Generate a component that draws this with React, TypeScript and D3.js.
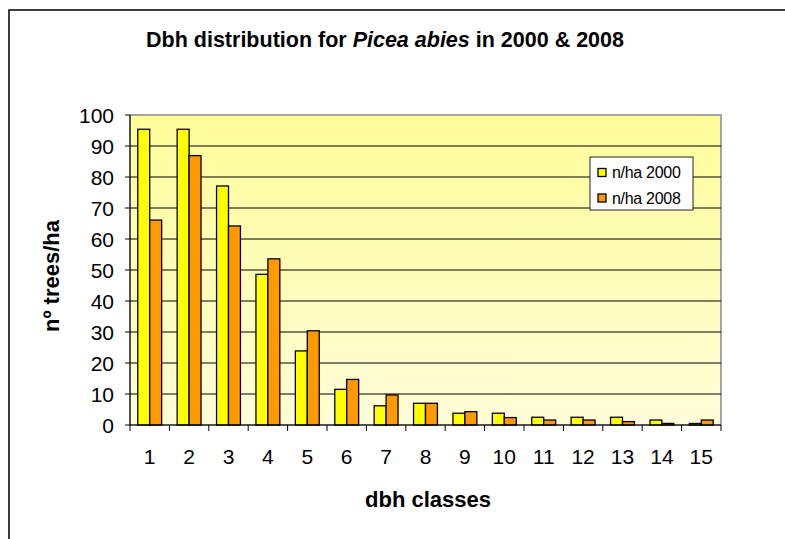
import * as d3 from 'd3';

const classes = ['1', '2', '3', '4', '5', '6', '7', '8', '9', '10', '11', '12', '13', '14', '15'];
const trees2000 = [95.4, 95.4, 77.1, 48.6, 23.9, 11.5, 6.2, 7.0, 3.8, 3.8, 2.5, 2.5, 2.5, 1.6, 0.5];
const trees2008 = [66.1, 86.9, 64.2, 53.6, 30.4, 14.7, 9.7, 7.0, 4.3, 2.4, 1.6, 1.6, 1.1, 0.5, 1.6];
const yTicks = [0, 10, 20, 30, 40, 50, 60, 70, 80, 90, 100];
const seriesNames = ['n/ha 2000', 'n/ha 2008'];
const seriesColors = ['#FFFF00', '#FF9900'];

const W = 785;
const H = 539;
const font = '"Liberation Sans", Arial, sans-serif';

export default function App(): JSX.Element {
  const plot = { left: 130, right: 721, top: 115, bottom: 425 };

  const x = d3.scaleBand<string>()
    .domain(classes)
    .range([plot.left, plot.right])
    .paddingInner(0)
    .paddingOuter(0);

  // two bars per class, gap ~ 130% of bar width
  const barW = x.bandwidth() / 3.3;
  const inner = d3.scaleBand<number>()
    .domain([0, 1])
    .range([(x.bandwidth() - 2 * barW) / 2, (x.bandwidth() + 2 * barW) / 2]);

  const y = d3.scaleLinear().domain([0, 100]).range([plot.bottom, plot.top]);

  const series = [trees2000, trees2008];

  return (
    <svg width={W} height={H} style={{ position: 'absolute', left: 0, top: 0, fontFamily: font }}>
      <defs>
        <linearGradient id="bg" x1="0" y1="0" x2="0" y2="1">
          <stop offset="0%" stopColor="#FFFC99" />
          <stop offset="100%" stopColor="#FFFDD8" />
        </linearGradient>
      </defs>
      <rect x={0} y={0} width={W} height={H} fill="#fff" />
      {/* chart frame */}
      <rect x={9} y={10} width={W + 20} height={H + 20} fill="none" stroke="#000" strokeWidth={1.5} />

      <text x={385} y={47} textAnchor="middle" fontSize={21.5} fontWeight="bold">
        Dbh distribution for <tspan fontStyle="italic">Picea abies</tspan> in 2000 &amp; 2008
      </text>

      {/* plot area */}
      <rect
        x={plot.left}
        y={plot.top}
        width={plot.right - plot.left}
        height={plot.bottom - plot.top}
        fill="url(#bg)"
        stroke="#888"
        strokeWidth={1.5}
      />
      {yTicks.filter(t => t > 0 && t < 100).map(t => (
        <line key={t} x1={plot.left} x2={plot.right} y1={y(t)} y2={y(t)} stroke="#000" strokeWidth={1} />
      ))}

      {classes.map((c, i) => (
        <g key={c} transform={`translate(${x(c)},0)`}>
          {series.map((s, j) => (
            <rect
              key={j}
              x={inner(j)}
              y={y(s[i])}
              width={barW}
              height={y(0) - y(s[i])}
              fill={seriesColors[j]}
              stroke="#000"
              strokeWidth={1.3}
            />
          ))}
        </g>
      ))}

      {/* y axis */}
      <line x1={plot.left} x2={plot.left} y1={plot.top} y2={plot.bottom} stroke="#000" strokeWidth={1} />
      {yTicks.map(t => (
        <g key={t} transform={`translate(${plot.left},${y(t)})`}>
          <line x1={-5} x2={0} stroke="#000" />
          <text x={-16} dy="0.36em" textAnchor="end" fontSize={21}>{t}</text>
        </g>
      ))}

      {/* x axis */}
      <line x1={plot.left} x2={plot.right} y1={plot.bottom} y2={plot.bottom} stroke="#000" strokeWidth={1} />
      {classes.map((c, i) => (
        <g key={c}>
          <line x1={x(c)!} x2={x(c)!} y1={plot.bottom} y2={plot.bottom + 6} stroke="#000" />
          {i === classes.length - 1 && (
            <line x1={plot.right} x2={plot.right} y1={plot.bottom} y2={plot.bottom + 6} stroke="#000" />
          )}
          <text x={x(c)! + x.bandwidth() / 2} y={464} textAnchor="middle" fontSize={21}>{c}</text>
        </g>
      ))}

      <text x={428} y={507} textAnchor="middle" fontSize={22} fontWeight="bold">dbh classes</text>
      <text
        transform={`translate(59,${276}) rotate(-90)`}
        textAnchor="middle"
        fontSize={22}
        fontWeight="bold"
      >
        nº trees/ha
      </text>

      {/* legend */}
      <g transform="translate(590,157)">
        <rect x={0} y={0} width={103} height={53} fill="#fff" stroke="#222" strokeWidth={1} />
        {seriesNames.map((n, j) => (
          <g key={n} transform={`translate(8,${15.5 + j * 25.5})`}>
            <rect x={0} y={-4} width={8} height={8} fill={seriesColors[j]} stroke="#000" strokeWidth={1.3} />
            <text x={14} dy="0.36em" fontSize={16} letterSpacing={-0.3}>{n}</text>
          </g>
        ))}
      </g>
    </svg>
  );
}
